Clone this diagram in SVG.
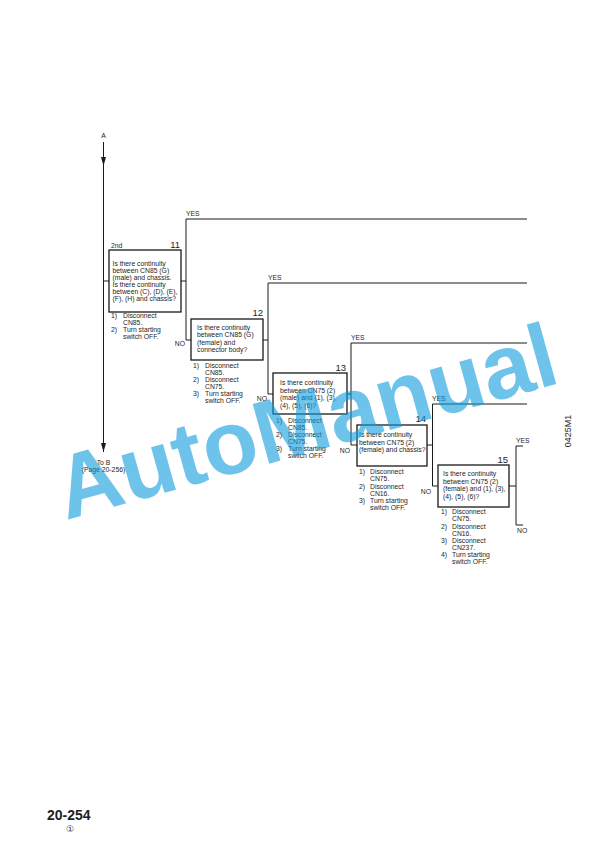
<svg xmlns="http://www.w3.org/2000/svg" width="612" height="856" viewBox="0 0 612 856">
<defs>
<marker id="arr" markerUnits="userSpaceOnUse" markerWidth="10" markerHeight="6" refX="9" refY="2.5" orient="auto" viewBox="0 0 10 5">
<path d="M0,0 L9,2.5 L0,5 z" fill="#1a1a1a"/>
</marker>
<style>
.t{font-family:"Liberation Sans",Arial,sans-serif;font-size:6.8px;fill:#1e1e1e}
.lab{font-family:"Liberation Sans",Arial,sans-serif;font-size:6.8px;fill:#1e1e1e}
.num{font-family:"Liberation Sans",Arial,sans-serif;font-size:9.5px;fill:#1e1e1e;text-anchor:end}
.box{fill:none;stroke:#1a1a1a;stroke-width:1.3}
.ln{fill:none;stroke:#1a1a1a;stroke-width:1}
</style>
</defs>
<rect width="612" height="856" fill="#ffffff"/>

<g id="connectors">
<path class="ln" d="M103.5 142 L103.5 166 L103.5 452" marker-mid="url(#arr)" marker-end="url(#arr)"/>
<path class="ln" d="M103.5 281 L109 281"/>
<path class="ln" d="M181 281 L186 281"/>
<path class="ln" d="M186 340 L186 219 L527 219"/>
<path class="ln" d="M186 340 L191 340"/>
<path class="ln" d="M263 340 L268 340"/>
<path class="ln" d="M268 394 L268 283 L527 283"/>
<path class="ln" d="M268 394 L273 394"/>
<path class="ln" d="M347 394 L351 394"/>
<path class="ln" d="M351 445 L351 343 L527 343"/>
<path class="ln" d="M351 445 L357 445"/>
<path class="ln" d="M427 445 L432.5 445"/>
<path class="ln" d="M432.5 486 L432.5 404 L527 404"/>
<path class="ln" d="M432.5 486 L438 486"/>
<path class="ln" d="M509 486 L516 486"/>
<path class="ln" d="M523 446 L516 446 L516 525 L523 525"/>
<text class="lab" x="186" y="216">YES</text>
<text class="lab" x="268" y="280">YES</text>
<text class="lab" x="351" y="340">YES</text>
<text class="lab" x="432" y="401">YES</text>
<text class="lab" x="516" y="443">YES</text>
<text class="lab" x="517" y="533">NO</text>
<text class="lab" x="185" y="346" text-anchor="end">NO</text>
<text class="lab" x="267" y="401" text-anchor="end">NO</text>
<text class="lab" x="350" y="453" text-anchor="end">NO</text>
<text class="lab" x="431" y="494" text-anchor="end">NO</text>
</g>

<g id="start-A">
<text class="lab" x="103.5" y="138" text-anchor="middle">A</text>
</g>

<g id="end-B">
<text class="lab" x="103.5" y="465" text-anchor="middle">To B</text>
<text class="lab" x="103.5" y="471.5" text-anchor="middle">(Page 20-256)</text>
</g>

<g id="node11">
<rect class="box" x="109" y="250" width="72" height="62"/>
<text class="lab" x="111" y="248">2nd</text>
<text class="num" x="180" y="248">11</text>
<text class="t" x="112.5" y="265.5">Is there continuity</text>
<text class="t" x="112.5" y="272.5">between CN85 (G)</text>
<text class="t" x="112.5" y="279.5">(male) and chassis.</text>
<text class="t" x="112.5" y="286.5">Is there continuity</text>
<text class="t" x="112.5" y="293.5">between (C), (D), (E),</text>
<text class="t" x="112.5" y="300.5">(F), (H) and chassis?</text>
<text class="t" x="111" y="317.5">1)</text>
<text class="t" x="123" y="317.5">Disconnect</text>
<text class="t" x="123" y="324.5">CN85.</text>
<text class="t" x="111" y="331.5">2)</text>
<text class="t" x="123" y="331.5">Turn starting</text>
<text class="t" x="123" y="338.5">switch OFF.</text>
</g>

<g id="node12">
<rect class="box" x="191" y="319" width="72" height="41"/>
<text class="num" x="263" y="316">12</text>
<text class="t" x="197" y="330">Is there continuity</text>
<text class="t" x="197" y="337.3">between CN85 (G)</text>
<text class="t" x="197" y="344.6">(female) and</text>
<text class="t" x="197" y="352">connector body?</text>
<text class="t" x="193" y="368">1)</text>
<text class="t" x="205" y="368">Disconnect</text>
<text class="t" x="205" y="375">CN85.</text>
<text class="t" x="193" y="382">2)</text>
<text class="t" x="205" y="382">Disconnect</text>
<text class="t" x="205" y="389">CN75.</text>
<text class="t" x="193" y="396">3)</text>
<text class="t" x="205" y="396">Turn starting</text>
<text class="t" x="205" y="403">switch OFF.</text>
</g>

<g id="node13">
<rect class="box" x="273" y="373" width="74" height="41"/>
<text class="num" x="346" y="371">13</text>
<text class="t" x="280" y="385">Is there continuity</text>
<text class="t" x="280" y="392.5">between CN75 (2)</text>
<text class="t" x="280" y="400">(male) and (1), (3),</text>
<text class="t" x="280" y="407.5">(4), (5), (6)?</text>
<text class="t" x="276" y="423">1)</text>
<text class="t" x="288" y="423">Disconnect</text>
<text class="t" x="288" y="430">CN85.</text>
<text class="t" x="276" y="437">2)</text>
<text class="t" x="288" y="437">Disconnect</text>
<text class="t" x="288" y="444">CN75.</text>
<text class="t" x="276" y="451">3)</text>
<text class="t" x="288" y="451">Turn starting</text>
<text class="t" x="288" y="458">switch OFF.</text>
</g>

<g id="node14">
<rect class="box" x="357" y="425" width="70" height="41"/>
<text class="num" x="426" y="422">14</text>
<text class="t" x="359" y="437">Is there continuity</text>
<text class="t" x="359" y="444.5">between CN75 (2)</text>
<text class="t" x="359" y="452">(female) and chassis?</text>
<text class="t" x="359" y="474">1)</text>
<text class="t" x="370" y="474">Disconnect</text>
<text class="t" x="370" y="481">CN75.</text>
<text class="t" x="359" y="488.5">2)</text>
<text class="t" x="370" y="488.5">Disconnect</text>
<text class="t" x="370" y="495.5">CN16.</text>
<text class="t" x="359" y="503">3)</text>
<text class="t" x="370" y="503">Turn starting</text>
<text class="t" x="370" y="510">switch OFF.</text>
</g>

<g id="node15">
<rect class="box" x="438" y="465" width="71" height="42"/>
<text class="num" x="508" y="463">15</text>
<text class="t" x="443" y="476">Is there continuity</text>
<text class="t" x="443" y="483.5">between CN75 (2)</text>
<text class="t" x="443" y="491">(female) and (1), (3),</text>
<text class="t" x="443" y="498.5">(4), (5), (6)?</text>
<text class="t" x="441" y="514">1)</text>
<text class="t" x="452" y="514">Disconnect</text>
<text class="t" x="452" y="521">CN75.</text>
<text class="t" x="441" y="528.5">2)</text>
<text class="t" x="452" y="528.5">Disconnect</text>
<text class="t" x="452" y="535.5">CN16.</text>
<text class="t" x="441" y="543">3)</text>
<text class="t" x="452" y="543">Disconnect</text>
<text class="t" x="452" y="550">CN237.</text>
<text class="t" x="441" y="557">4)</text>
<text class="t" x="452" y="557">Turn starting</text>
<text class="t" x="452" y="564">switch OFF.</text>
</g>

<g id="figure-code">
<text x="571" y="431" text-anchor="middle" transform="rotate(-90 571 431)" style="font-family:'Liberation Sans',Arial,sans-serif;font-size:9px;fill:#1e1e1e">0425M1</text>
</g>

<g id="page-number">
<text x="47" y="820" style="font-family:'Liberation Sans',Arial,sans-serif;font-size:14px;font-weight:bold;fill:#1e1e1e">20-254</text>
<text x="70" y="832" text-anchor="middle" style="font-family:'DejaVu Sans',sans-serif;font-size:9px;fill:#1e1e1e">①</text>
</g>

<g id="watermark">
<text x="66" y="520" transform="rotate(-15.5 66 520)" style="font-family:'Liberation Sans',Arial,sans-serif;font-size:90px;font-weight:bold;fill:#0d9bde;fill-opacity:0.6">AutoManual</text>
</g>
</svg>
